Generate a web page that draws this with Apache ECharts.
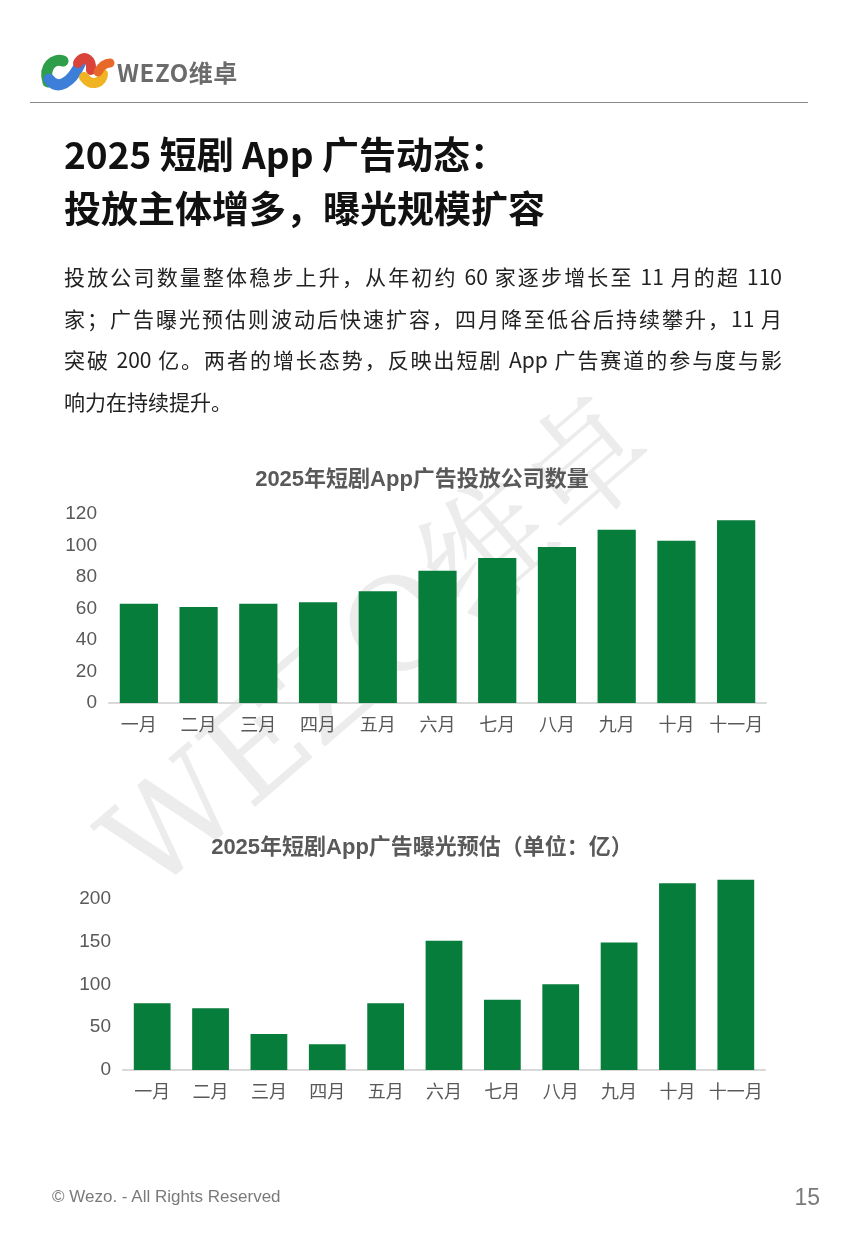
<!DOCTYPE html>
<html>
<head>
<meta charset="utf-8">
<script src="https://cdn.jsdelivr.net/npm/echarts@6/dist/echarts.min.js"></script>
<style>
  html, body { margin: 0; padding: 0; background: #fff; }
  body { width: 860px; height: 1240px; position: relative; overflow: hidden;
         font-family: "Noto Sans CJK SC", "Noto Sans", sans-serif; }
  #chart { position: absolute; left: 0; top: 0; width: 860px; height: 1240px; }
  .abs { position: absolute; white-space: nowrap; }
  #brand { left: 117px; top: 57px; font-size: 24px; font-weight: bold; color: #6b6b6b; line-height: 30px; letter-spacing: 0.6px; }
  #rule { left: 30px; top: 102px; width: 778px; height: 1px; background: #8a8a8a; }
  #title { left: 64px; top: 126px; font-size: 37px; font-weight: bold; color: #111; line-height: 54px; }
  #para { left: 64px; top: 256px; width: 718px; font-size: 21px; color: #222; line-height: 41.7px; }
  #para div { text-align: justify; text-align-last: justify; white-space: nowrap; }
  #para div.last { text-align-last: left; }
  #foot { left: 52px; top: 1185px; font-size: 17px; color: #7a7a7a; line-height: 24px; font-family: "Liberation Sans", sans-serif; }
  #page { right: 40px; top: 1183px; font-size: 23px; color: #7a7a7a; line-height: 28px; font-family: "Liberation Sans", sans-serif; }
</style>
</head>
<body>
<div id="chart"></div>
<div class="abs" id="brand">WEZO维卓</div>
<div class="abs" id="rule"></div>
<div class="abs" id="title">2025 短剧 App 广告动态：<br>投放主体增多，曝光规模扩容</div>
<div class="abs" id="para">
  <div>投放公司数量整体稳步上升，从年初约 60 家逐步增长至 11 月的超 110</div>
  <div>家；广告曝光预估则波动后快速扩容，四月降至低谷后持续攀升，11 月</div>
  <div>突破 200 亿。两者的增长态势，反映出短剧 App 广告赛道的参与度与影</div>
  <div class="last">响力在持续提升。</div>
</div>
<div class="abs" id="foot">© Wezo. - All Rights Reserved</div>
<div class="abs" id="page">15</div>
<script>
var months = ['一月','二月','三月','四月','五月','六月','七月','八月','九月','十月','十一月'];
var companyCount = [63, 61, 63, 64, 71, 84, 92, 99, 110, 103, 116];
var exposure = [78, 72, 42, 30, 78, 151, 82, 100, 149, 218, 222];
var chart1Title = '2025年短剧App广告投放公司数量';
var chart2Title = '2025年短剧App广告曝光预估（单位：亿）';

var green = '#077d3b';
var labelColor = '#595959';
var fontFam = 'Liberation Sans, Noto Sans CJK SC, sans-serif';

var chart = echarts.init(document.getElementById('chart'), null, { renderer: 'canvas' });

function xAxisCfg(idx) {
  return {
    type: 'category', gridIndex: idx, data: months,
    axisLine: { lineStyle: { color: '#d9d9d9', width: 2 } },
    axisTick: { show: false },
    axisLabel: { color: labelColor, fontSize: 18, margin: 14, fontFamily: fontFam, interval: 0 }
  };
}

chart.setOption({
  animation: false,
  title: [
    { text: chart1Title, left: 417, top: 464, textAlign: 'center',
      textStyle: { fontSize: 22, fontWeight: 'bold', color: '#595959', fontFamily: fontFam } },
    { text: chart2Title, left: 417, top: 832, textAlign: 'center',
      textStyle: { fontSize: 22, fontWeight: 'bold', color: '#595959', fontFamily: fontFam } }
  ],
  graphic: [
    { type: 'text', z: -10, x: 384, y: 652, rotation: 0.71,
      style: { text: 'WEZO维卓', font: 'normal 128px "DejaVu Serif", "Noto Serif CJK SC", serif',
               fill: 'rgba(0,0,0,0.075)', align: 'center', verticalAlign: 'middle' } },
    { type: 'bezierCurve', shape: { x1: 48, y1: 82, cpx1: 43, cpy1: 66, cpx2: 54, cpy2: 58, x2: 63, y2: 61 },
      style: { stroke: '#2f9e4b', lineWidth: 11, lineCap: 'round', fill: null } },
    { type: 'bezierCurve', shape: { x1: 49, y1: 79, cpx1: 57, cpy1: 92, cpx2: 72, cpy2: 82, x2: 80, y2: 64 },
      style: { stroke: '#3d7fd8', lineWidth: 11, lineCap: 'round', fill: null } },
    { type: 'bezierCurve', shape: { x1: 78, y1: 63, cpx1: 84, cpy1: 53, cpx2: 92, cpy2: 60, x2: 91, y2: 70 },
      style: { stroke: '#d9433a', lineWidth: 10, lineCap: 'round', fill: null } },
    { type: 'bezierCurve', shape: { x1: 84, y1: 77, cpx1: 92, cpy1: 88, cpx2: 103, cpy2: 82, x2: 103, y2: 74 },
      style: { stroke: '#f0b323', lineWidth: 10, lineCap: 'round', fill: null } },
    { type: 'bezierCurve', shape: { x1: 98, y1: 72, cpx1: 101, cpy1: 66, cpx2: 106, cpy2: 63, x2: 110, y2: 63 },
      style: { stroke: '#e8682a', lineWidth: 9, lineCap: 'round', fill: null } }
  ],
  grid: [
    { left: 109, right: 94, top: 514, bottom: 537 },
    { left: 123, right: 95, top: 873, bottom: 170 }
  ],
  xAxis: [xAxisCfg(0), xAxisCfg(1)],
  yAxis: [
    { type: 'value', gridIndex: 0, min: 0, max: 120, interval: 20,
      splitLine: { show: false }, axisLine: { show: false }, axisTick: { show: false },
      axisLabel: { color: labelColor, fontSize: 19, margin: 12, fontFamily: fontFam } },
    { type: 'value', gridIndex: 1, min: 0, max: 230, interval: 50,
      splitLine: { show: false }, axisLine: { show: false }, axisTick: { show: false },
      axisLabel: { color: labelColor, fontSize: 19, margin: 12, fontFamily: fontFam,
        formatter: function (v) { return v % 50 === 0 ? String(v) : ''; } } }
  ],
  series: [
    { type: 'bar', xAxisIndex: 0, yAxisIndex: 0, data: companyCount, barWidth: '64%',
      itemStyle: { color: green }, z: 5 },
    { type: 'bar', xAxisIndex: 1, yAxisIndex: 1, data: exposure, barWidth: '63%',
      itemStyle: { color: green }, z: 5 }
  ]
});
</script>
</body>
</html>
